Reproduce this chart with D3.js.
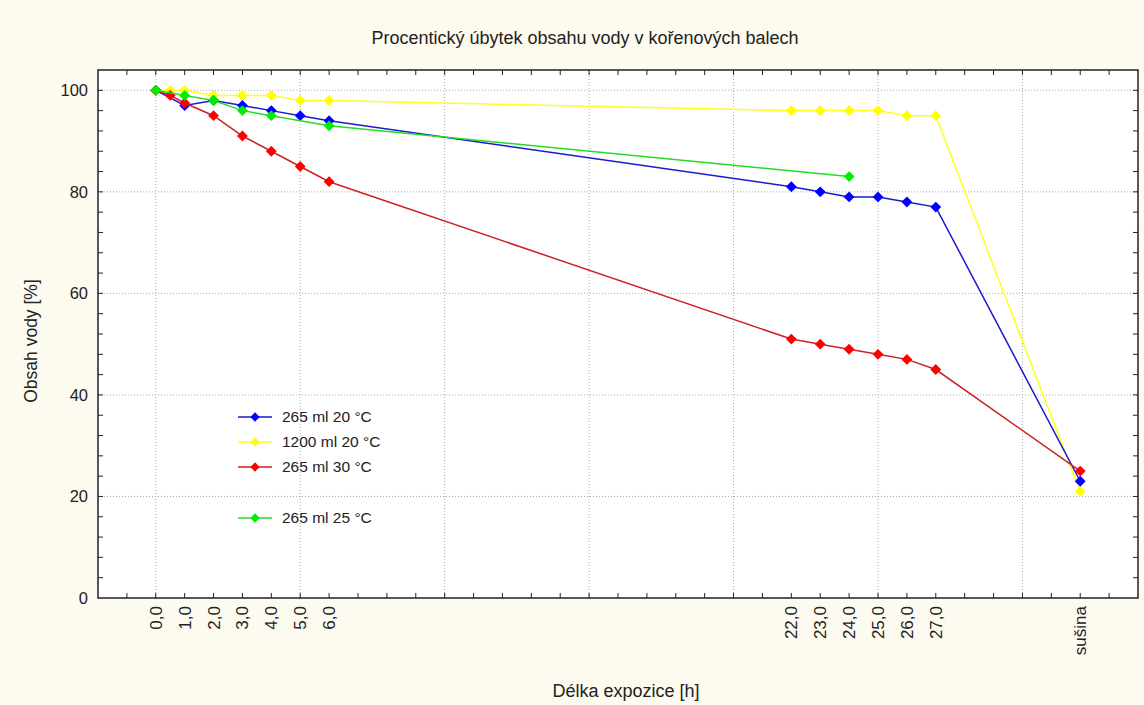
<!DOCTYPE html>
<html>
<head>
<meta charset="utf-8">
<script src="https://cdn.jsdelivr.net/npm/d3@7"></script>
<style>
  body { margin: 0; background: #fdfaf0; }
  text { font-family: "Liberation Sans", Arial, sans-serif; fill: #222; }
</style>
</head>
<body>
<div id="chart"></div>
<script>
// Data
const seriesNames = ["265 ml 20 °C", "1200 ml 20 °C", "265 ml 30 °C", "265 ml 25 °C"];
const seriesColors = ["#0000ff", "#ffff00", "#ff0000", "#00ee00"];
const lineColors = ["#1a1acc", "#ffff20", "#cc2222", "#22dd22"];

const hoursBlue = [0, 1, 2, 3, 4, 5, 6, 22, 23, 24, 25, 26, 27, 32];
const waterBlue = [100, 97, 98, 97, 96, 95, 94, 81, 80, 79, 79, 78, 77, 23];

const hoursYellow = [0, 0.5, 1, 2, 3, 4, 5, 6, 22, 23, 24, 25, 26, 27, 32];
const waterYellow = [100, 100, 100, 99, 99, 99, 98, 98, 96, 96, 96, 96, 95, 95, 21];

const hoursRed = [0, 0.5, 1, 2, 3, 4, 5, 6, 22, 23, 24, 25, 26, 27, 32];
const waterRed = [100, 99, 97.5, 95, 91, 88, 85, 82, 51, 50, 49, 48, 47, 45, 25];

const hoursGreen = [0, 1, 2, 3, 4, 6, 24];
const waterGreen = [100, 99, 98, 96, 95, 93, 83];

// x tick labels (32 = "sušina", dry matter)
const xTickValues = [0, 1, 2, 3, 4, 5, 6, 22, 23, 24, 25, 26, 27, 32];
const xTickLabels = ["0,0", "1,0", "2,0", "3,0", "4,0", "5,0", "6,0",
                     "22,0", "23,0", "24,0", "25,0", "26,0", "27,0", "sušina"];
const yTickValues = [0, 20, 40, 60, 80, 100];

const title = "Procentický úbytek obsahu vody v kořenových balech";
const xTitle = "Délka expozice [h]";
const yTitle = "Obsah vody [%]";

// Layout
const W = 1144, H = 705;
const margin = { top: 70, right: 6, bottom: 107, left: 98 };
const width = W - margin.left - margin.right,
      height = H - margin.top - margin.bottom;

const svg = d3.select("#chart").append("svg")
    .attr("width", W)
    .attr("height", H);

svg.append("rect").attr("width", W).attr("height", H).attr("fill", "#fdfaf0");

const g = svg.append("g")
    .attr("transform", `translate(${margin.left},${margin.top})`);

const x = d3.scaleLinear().domain([-2, 34]).range([0, width]);
const y = d3.scaleLinear().domain([0, 104]).range([height, 0]);

// plot background
g.append("rect")
    .attr("width", width)
    .attr("height", height)
    .attr("fill", "#ffffff");

// grid
g.append("g")
    .selectAll("line")
    .data(d3.range(0, 31, 5))
    .join("line")
    .attr("x1", d => x(d)).attr("x2", d => x(d))
    .attr("y1", 0).attr("y2", height)
    .attr("stroke", "#a8a8a8")
    .attr("stroke-dasharray", "1,2");

g.append("g")
    .selectAll("line")
    .data(d3.range(20, 101, 20))
    .join("line")
    .attr("x1", 0).attr("x2", width)
    .attr("y1", d => y(d)).attr("y2", d => y(d))
    .attr("stroke", "#a8a8a8")
    .attr("stroke-dasharray", "1,2");

// ticks (all pointing inwards)
const xMinor = d3.range(-1, 34, 1);
const yMinor = d3.range(4, 104, 4);

g.append("g").selectAll("line").data(xMinor).join("line")
    .attr("x1", d => x(d)).attr("x2", d => x(d))
    .attr("y1", height).attr("y2", height - 5)
    .attr("stroke", "#222");
g.append("g").selectAll("line").data(xMinor).join("line")
    .attr("x1", d => x(d)).attr("x2", d => x(d))
    .attr("y1", 0).attr("y2", 5)
    .attr("stroke", "#222");
g.append("g").selectAll("line").data(yMinor).join("line")
    .attr("x1", 0).attr("x2", 5)
    .attr("y1", d => y(d)).attr("y2", d => y(d))
    .attr("stroke", "#222");
g.append("g").selectAll("line").data(yMinor).join("line")
    .attr("x1", width).attr("x2", width - 5)
    .attr("y1", d => y(d)).attr("y2", d => y(d))
    .attr("stroke", "#222");

// frame
g.append("rect")
    .attr("width", width)
    .attr("height", height)
    .attr("fill", "none")
    .attr("stroke", "#222")
    .attr("stroke-width", 1.5);

// y tick labels
g.append("g").selectAll("text").data(yTickValues).join("text")
    .attr("x", -10)
    .attr("y", d => y(d))
    .attr("dy", "0.35em")
    .attr("text-anchor", "end")
    .style("font-size", "16.5px")
    .text(d => d);

// x tick labels (rotated)
g.append("g").selectAll("text").data(xTickValues).join("text")
    .attr("transform", d => `translate(${x(d)},${height + 8}) rotate(-90)`)
    .attr("dy", "0.35em")
    .attr("text-anchor", "end")
    .style("font-size", "17px")
    .text((d, i) => xTickLabels[i]);

// titles
svg.append("text")
    .attr("x", 585).attr("y", 44)
    .attr("text-anchor", "middle")
    .style("font-size", "18px")
    .text(title);

svg.append("text")
    .attr("x", 626).attr("y", 697)
    .attr("text-anchor", "middle")
    .style("font-size", "18px")
    .text(xTitle);

svg.append("text")
    .attr("transform", `translate(37,341) rotate(-90)`)
    .attr("text-anchor", "middle")
    .style("font-size", "17.5px")
    .text(yTitle);

// series (drawn yellow, blue, red, green so the green stays on top)
const series = [
  { name: seriesNames[0], color: seriesColors[0], line: lineColors[0], hours: hoursBlue, water: waterBlue },
  { name: seriesNames[1], color: seriesColors[1], line: lineColors[1], hours: hoursYellow, water: waterYellow },
  { name: seriesNames[2], color: seriesColors[2], line: lineColors[2], hours: hoursRed, water: waterRed },
  { name: seriesNames[3], color: seriesColors[3], line: lineColors[3], hours: hoursGreen, water: waterGreen }
];
const drawOrder = [1, 0, 2, 3];

const line = d3.line()
    .x(d => x(d[0]))
    .y(d => y(d[1]));

const diamond = d3.symbol().type(d3.symbolDiamond2).size(75);

drawOrder.forEach(function(k) {
    const s = series[k];
    const pts = s.hours.map((h, i) => [h, s.water[i]]);
    g.append("path")
        .datum(pts)
        .attr("fill", "none")
        .attr("stroke", s.line)
        .attr("stroke-width", 1.5)
        .attr("d", line);
    g.append("g").selectAll("path").data(pts).join("path")
        .attr("transform", d => `translate(${x(d[0])},${y(d[1])})`)
        .attr("d", diamond)
        .attr("fill", s.color);
});

// legend
const legendY = [417, 442, 467, 518];
series.forEach(function(s, i) {
    const lg = svg.append("g").attr("transform", `translate(238,${legendY[i]})`);
    lg.append("line")
        .attr("x1", 0).attr("x2", 34)
        .attr("stroke", s.line)
        .attr("stroke-width", 1.5);
    lg.append("path")
        .attr("transform", "translate(17,0)")
        .attr("d", d3.symbol().type(d3.symbolDiamond2).size(55))
        .attr("fill", s.color);
    lg.append("text")
        .attr("x", 44)
        .attr("dy", "0.35em")
        .style("font-size", "15.5px")
        .text(s.name);
});
</script>
</body>
</html>
